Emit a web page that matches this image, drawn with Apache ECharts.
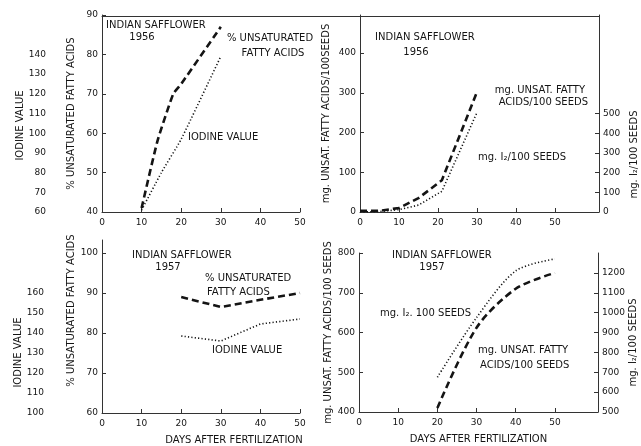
<!DOCTYPE html>
<html><head><meta charset="utf-8">
<script src="https://cdn.jsdelivr.net/npm/echarts@6/dist/echarts.min.js"></script>
<style>html,body{margin:0;padding:0;background:#fff}#c{width:641px;height:446px}</style>
</head><body><div id="c"></div>
<script>
// ---- DATA ----
// 1956 left panel
const d56PctDays = [10, 14, 18, 20, 30];
const d56PctUnsat = [41, 58, 70, 72.5, 87];
const d56IodDays = [10, 15, 20, 30];
const d56Iodine = [61, 80, 97, 139];
// 1956 right panel
const d56MgDays = [0, 5, 10, 15, 21, 30];
const d56MgUnsat = [3, 3, 10, 35, 80, 302];
const d56MgI2Days = [0, 5, 10, 15, 21, 30];
const d56MgI2 = [0, 2, 12, 35, 105, 505];
// 1957 left panel
const d57Days = [20, 30, 40, 50];
const d57PctUnsat = [89, 86.5, 88.3, 90];
const d57Iodine = [138.5, 136, 144.5, 147];
// 1957 right panel
const d57MgUnsat = [410, 612, 710, 750];
const d57MgI2 = [675, 975, 1210, 1270];
// tick labels
const xTicks = [0, 10, 20, 30, 40, 50];
const ticksPct56 = [40, 50, 60, 70, 80, 90];
const ticksIod56 = [60, 70, 80, 90, 100, 110, 120, 130, 140];
const ticksMg56 = [0, 100, 200, 300, 400];
const ticksI256 = [0, 100, 200, 300, 400, 500];
const ticksPct57 = [60, 70, 80, 90, 100];
const ticksIod57 = [100, 110, 120, 130, 140, 150, 160];
const ticksMg57 = [400, 500, 600, 700, 800];
const ticksI257 = [500, 600, 700, 800, 900, 1000, 1100, 1200];

const zip = (xs, ys) => xs.map((x, i) => [x, ys[i]]);
const FONT = 'DejaVu Sans';
const INK = '#141414';
const only = list => v => list.indexOf(Math.round(v * 1000) / 1000) >= 0 ? String(v) : '';
const lineC = { lineStyle: { color: '#333', width: 1 } };
const tickC = (vals) => ({ show: true, inside: true, length: 4, customValues: vals, lineStyle: { color: '#333' } });
const nameStyle = (pad) => ({ fontFamily: FONT, fontSize: 10, color: INK, padding: pad || 0 });

function xAx(grid, max, pos, name, pad) {
  return {
    type: 'value', gridIndex: grid, min: 0, max: max, interval: 10, position: pos || 'bottom',
    axisLine: lineC, axisTick: tickC(xTicks), splitLine: { show: false },
    axisLabel: { customValues: xTicks, formatter: only(xTicks), fontFamily: FONT, fontSize: 9, color: INK, margin: 6 },
    name: name || '', nameLocation: 'middle', nameGap: 22, nameTextStyle: nameStyle(pad)
  };
}
function yAx(grid, min, max, pos, ticks, name, gap, pad, opts) {
  return Object.assign({
    type: 'value', gridIndex: grid, min: min, max: max, interval: (ticks[1] - ticks[0]), position: pos,
    axisLine: Object.assign({ show: true }, lineC), axisTick: tickC(ticks), splitLine: { show: false },
    axisLabel: { customValues: ticks, formatter: only(ticks), fontFamily: FONT, fontSize: 9, color: INK, margin: 4 },
    name: name, nameLocation: 'middle', nameGap: gap, nameRotate: 90, nameTextStyle: nameStyle(pad)
  }, opts || {});
}
const dashed = { color: INK, width: 2.6, type: [7, 4] };
const dotted = { color: INK, width: 1.6, type: [1.2, 2.2] };
function ser(x, y, data, style, smooth) {
  return { type: 'line', xAxisIndex: x, yAxisIndex: y, data: data, symbol: 'none', smooth: smooth || false,
    lineStyle: style, silent: true, z: 3 };
}
function txt(s, x, y, align) {
  return { type: 'text', x: x, y: y, silent: true,
    style: { text: s, fontFamily: FONT, fontSize: 10, fill: INK, align: align || 'left', verticalAlign: 'middle' } };
}

const option = {
  animation: false,
  backgroundColor: '#fff',
  grid: [
    { left: 102, top: 15, width: 198, height: 197 },
    { left: 360, top: 15, width: 239, height: 197 },
    { left: 102, top: 240, width: 198, height: 173 },
    { left: 359, top: 253, width: 239, height: 159 },
    { left: 102, top: 15, width: 497, height: 1 }
  ],
  xAxis: [
    xAx(0, 50),
    xAx(1, 61.3),
    xAx(2, 50, 'bottom', 'DAYS AFTER FERTILIZATION', [0, 0, 0, 66]),
    xAx(3, 61, 'bottom', 'DAYS AFTER FERTILIZATION'),
    { type: 'value', gridIndex: 4, min: 0, max: 1, position: 'top', axisLine: lineC,
      axisTick: { show: false }, axisLabel: { show: false }, splitLine: { show: false } }
  ],
  yAxis: [
    yAx(0, 40, 90, 'left', ticksPct56, '% UNSATURATED FATTY ACIDS', 26),
    yAx(0, 60, 160, 'left', ticksIod56, 'IODINE VALUE', 19, [0, 24, 0, 0],
      { offset: 52, axisLine: { show: false }, axisTick: { show: false } }),
    yAx(1, 0, 496, 'left', ticksMg56, 'mg. UNSAT. FATTY ACIDS/100SEEDS', 29),
    yAx(1, 0, 1000, 'right', ticksI256, 'mg. I\u2082/100 SEEDS', 30, [0, 82, 0, 0]),
    yAx(2, 60, 103.25, 'left', ticksPct57, '% UNSATURATED FATTY ACIDS', 26, [0, 0, 0, 32]),
    yAx(2, 100, 186.5, 'left', ticksIod57, 'IODINE VALUE', 19, [0, 52, 0, 0],
      { offset: 54, axisLine: { show: false }, axisTick: { show: false } }),
    yAx(3, 400, 800, 'left', ticksMg57, 'mg. UNSAT. FATTY ACIDS/100 SEEDS', 26),
    yAx(3, 500, 1300, 'right', ticksI257, 'mg. I\u2082/100 SEEDS', 30, [0, 20, 0, 0]),
    { type: 'value', gridIndex: 4, show: false }
  ],
  series: [
    ser(0, 0, zip(d56PctDays, d56PctUnsat), dashed, 0.15),
    ser(0, 1, zip(d56IodDays, d56Iodine), dotted, 0.15),
    ser(1, 2, zip(d56MgDays, d56MgUnsat), dashed),
    ser(1, 3, zip(d56MgI2Days, d56MgI2), dotted),
    ser(2, 4, zip(d57Days, d57PctUnsat), dashed),
    ser(2, 5, zip(d57Days, d57Iodine), dotted),
    ser(3, 6, zip(d57Days, d57MgUnsat), dashed, 0.3),
    ser(3, 7, zip(d57Days, d57MgI2), dotted, 0.3)
  ],
  graphic: [
    txt('INDIAN SAFFLOWER', 106, 25),
    txt('1956', 142, 37, 'center'),
    txt('% UNSATURATED', 270, 38, 'center'),
    txt('FATTY ACIDS', 273, 53, 'center'),
    txt('IODINE VALUE', 188, 137),
    txt('INDIAN SAFFLOWER', 375, 37),
    txt('1956', 416, 52, 'center'),
    txt('mg. UNSAT. FATTY', 585, 90, 'right'),
    txt('ACIDS/100 SEEDS', 588, 102, 'right'),
    txt('mg. I\u2082/100 SEEDS', 478, 157),
    txt('INDIAN SAFFLOWER', 132, 255),
    txt('1957', 168, 267, 'center'),
    txt('% UNSATURATED', 205, 278),
    txt('FATTY ACIDS', 207, 292),
    txt('IODINE VALUE', 212, 350),
    txt('INDIAN SAFFLOWER', 392, 255),
    txt('1957', 432, 267, 'center'),
    txt('mg. I\u2082. 100 SEEDS', 380, 313),
    txt('mg. UNSAT. FATTY', 478, 350),
    txt('ACIDS/100 SEEDS', 480, 365)
  ]
};
const chart = echarts.init(document.getElementById('c'), null, { renderer: 'canvas' });
chart.setOption(option);
</script></body></html>
